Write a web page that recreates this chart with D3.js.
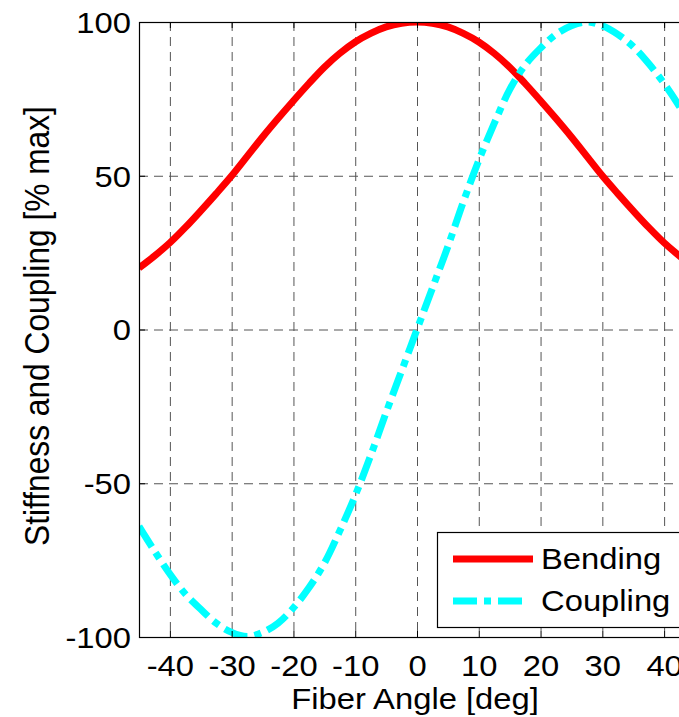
<!DOCTYPE html>
<html>
<head>
<meta charset="utf-8">
<script src="https://cdn.jsdelivr.net/npm/d3@7"></script>
<style>
  html, body { margin: 0; padding: 0; background: #fff; overflow: hidden; }
  svg { display: block; }
  text { font-family: "Liberation Sans", Arial, Helvetica, sans-serif; fill: #000; }
</style>
</head>
<body>
<svg id="chart" width="679" height="717"></svg>
<script>
// ---- data ----
const angles   = [-45,-42.5,-40,-37.5,-35,-32.5,-30,-27.5,-25,-22.5,-20,-17.5,-15,-12.5,-10,-7.5,-5,-2.5,0,
                  2.5,5,7.5,10,12.5,15,17.5,20,22.5,25,27.5,30,32.5,35,37.5,40,42.5,45];
const bending  = [20,23.9,28.2,33.2,38.6,44.2,50,56.3,62.6,68.6,74.4,80,85.3,89.8,93.5,96.3,98.4,99.6,100,
                  99.6,98.4,96.3,93.5,89.8,85.3,80,74.4,68.6,62.6,56.3,50,44.2,38.6,33.2,28.2,23.9,20];
const coupling = [-64,-72,-79.5,-86,-91,-95.5,-98.5,-99.8,-98.5,-95.5,-90.5,-84,-76,-65.5,-54,-41,-27,-13.5,0,
                  13.5,27,41.5,55,67,78,86,91.5,96,98.8,100,98.8,96,92,86.5,80,72.5,64];
const seriesNames = ["Bending", "Coupling"];
const xTicks = [-40,-30,-20,-10,0,10,20,30,40];
const yTicks = [-100,-50,0,50,100];
const xLabel = "Fiber Angle [deg]";
const yLabel = "Stiffness and Coupling [% max]";

// ---- layout ----
const L = 139, T = 22, R = 695, B = 637;
const SX = 1.13;          // horizontal stretch of the reference text
const tickFont = 29, xLabelFont = 29, yLabelFont = 31.7, legendFont = 29;
const dashDot = "24,7,7,7";

const svg = d3.select("#chart");
const x = d3.scaleLinear().domain([-45, 45]).range([L, R]);
const y = d3.scaleLinear().domain([-100, 100]).range([B, T]);
const fmt = d => String(d);

// grid
const grid = svg.append("g").attr("stroke", "#555").attr("stroke-width", 1)
  .attr("stroke-dasharray", "9,6").attr("fill", "none");
grid.selectAll("line.v").data(xTicks).join("line").attr("class", "v")
  .attr("x1", d => x(d) + 0.5).attr("x2", d => x(d) + 0.5).attr("y1", T).attr("y2", B);
grid.selectAll("line.h").data(yTicks.filter(d => d > -100 && d < 100)).join("line").attr("class", "h")
  .attr("y1", d => y(d) + 0.5).attr("y2", d => y(d) + 0.5).attr("x1", L).attr("x2", R);

// clip
svg.append("clipPath").attr("id", "clip").append("rect")
  .attr("x", L).attr("y", T).attr("width", R - L).attr("height", B - T);

const idx = d3.range(angles.length);
const lineB = d3.line().x(i => x(angles[i])).y(i => y(bending[i])).curve(d3.curveCatmullRom);
const lineC = d3.line().x(i => x(angles[i])).y(i => y(coupling[i])).curve(d3.curveCatmullRom);

const plot = svg.append("g").attr("clip-path", "url(#clip)");
plot.append("path").attr("d", lineB(idx)).attr("fill", "none")
  .attr("stroke", "#ff0000").attr("stroke-width", 7).attr("stroke-linejoin", "round");
plot.append("path").attr("d", lineC(idx)).attr("fill", "none")
  .attr("stroke", "#00ffff").attr("stroke-width", 7).attr("stroke-dasharray", dashDot)
  .attr("stroke-linecap", "butt");

// axes
function stretchTexts(g) {
  g.selectAll("text").each(function() {
    const t = d3.select(this);
    const tx = +t.attr("x") || 0, ty = +t.attr("y") || 0;
    t.attr("x", 0).attr("y", 0).attr("transform", `translate(${tx},${ty}) scale(${SX},1)`);
  });
}
const xAxis = svg.append("g").attr("transform", `translate(0,${B})`)
  .call(d3.axisBottom(x).tickValues(xTicks).tickFormat(fmt).tickSizeInner(-6).tickSizeOuter(0).tickPadding(18));
const xAxisTop = svg.append("g").attr("transform", `translate(0,${T})`)
  .call(d3.axisTop(x).tickValues(xTicks).tickFormat("").tickSizeInner(-6).tickSizeOuter(0));
const yAxis = svg.append("g").attr("transform", `translate(${L},0)`)
  .call(d3.axisLeft(y).tickValues(yTicks).tickFormat(fmt).tickSizeInner(-6).tickSizeOuter(0).tickPadding(8));
[xAxis, xAxisTop, yAxis].forEach(g => {
  g.select(".domain").remove();
  g.selectAll("line").attr("stroke", "#000");
  g.selectAll("text").attr("font-size", tickFont).attr("font-family", null);
});
stretchTexts(xAxis); stretchTexts(yAxis);
yAxis.selectAll("text").attr("dy", "0.36em");

// box
svg.append("rect").attr("x", L + 0.5).attr("y", T + 0.5).attr("width", R - L).attr("height", B - T)
  .attr("fill", "none").attr("stroke", "#000").attr("stroke-width", 1.2);

// labels
svg.append("text").attr("transform", `translate(${(L + R) / 2 - 2},709) scale(${SX},1)`)
  .attr("text-anchor", "middle").attr("font-size", xLabelFont).text(xLabel);
svg.append("text").attr("transform", `translate(49,${y(0) - 3.5}) scale(${SX},1) rotate(-90)`)
  .attr("text-anchor", "middle").attr("font-size", yLabelFont).text(yLabel);

// legend
const lg = svg.append("g");
lg.append("rect").attr("x", 437.5).attr("y", 532.5).attr("width", 260).attr("height", 95)
  .attr("fill", "#fff").attr("stroke", "#000").attr("stroke-width", 1.2);
const legendItems = [
  {name: seriesNames[0], color: "#ff0000", dash: null, y: 559, x2: 533},
  {name: seriesNames[1], color: "#00ffff", dash: dashDot, y: 601, x2: 526}
];
legendItems.forEach(it => {
  lg.append("line").attr("x1", 453).attr("x2", it.x2).attr("y1", it.y).attr("y2", it.y)
    .attr("stroke", it.color).attr("stroke-width", 7).attr("stroke-dasharray", it.dash);
  lg.append("text").attr("transform", `translate(541,${it.y + 10}) scale(${SX},1)`)
    .attr("font-size", legendFont).text(it.name);
});
</script>
</body>
</html>
